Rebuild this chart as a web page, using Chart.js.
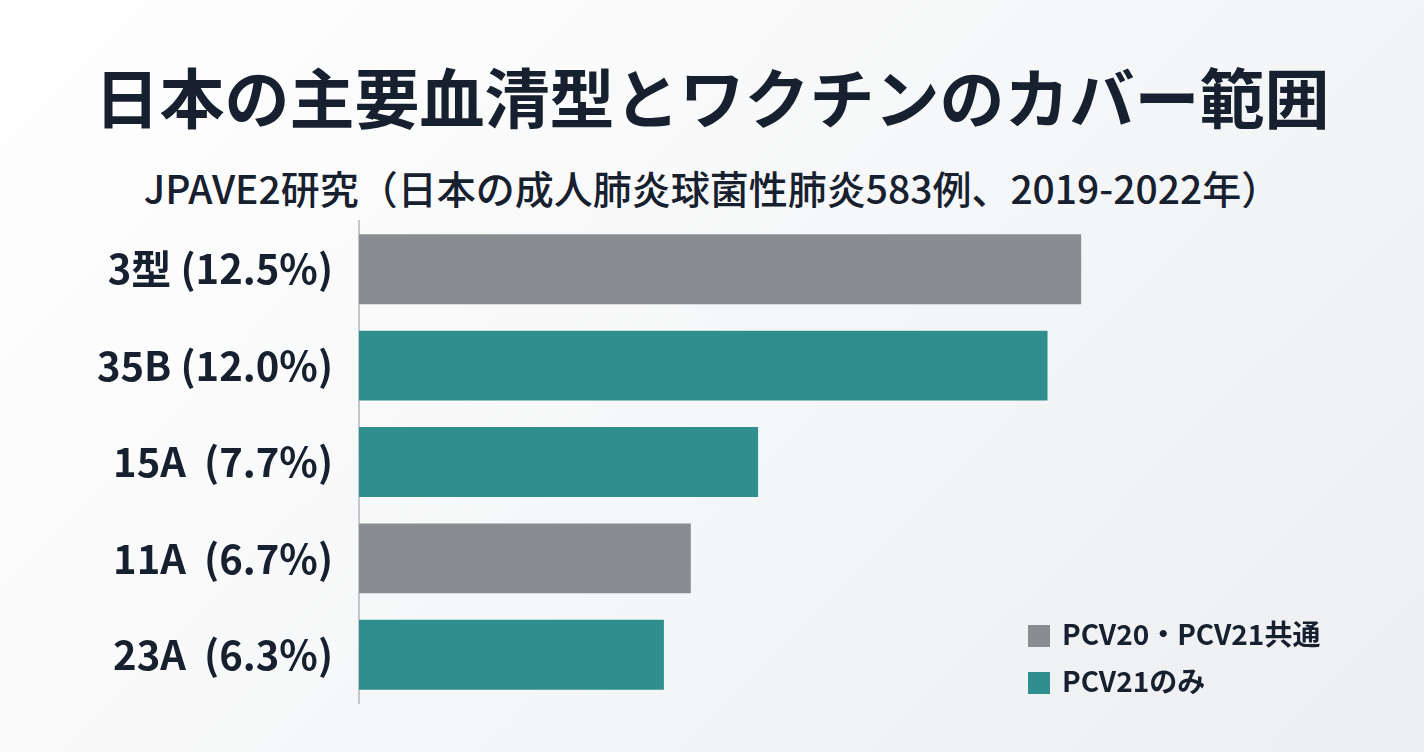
<!DOCTYPE html>
<html><head><meta charset="utf-8">
<script src="https://cdn.jsdelivr.net/npm/chart.js@4/dist/chart.umd.min.js"></script>
<style>
html,body{margin:0;padding:0;width:1424px;height:752px;overflow:hidden;font-family:"Noto Sans CJK JP","Noto Sans",sans-serif;}
body{background:linear-gradient(135deg,#ffffff 0%,#f6f7f8 50%,#eceef1 100%);position:relative;color:#17202e;}
#t{position:absolute;top:50px;left:0;width:1424px;text-align:center;font-size:65px;font-weight:700;line-height:90px;}
#s{position:absolute;top:160px;left:0;width:1424px;text-align:center;font-size:39px;font-weight:500;line-height:54px;}
#c{position:absolute;left:0;top:0;}
.lg{position:absolute;left:1028px;font-size:28px;font-weight:700;line-height:32px;}
.lg span{display:inline-block;width:22px;height:22px;vertical-align:-2px;margin-right:12px;}
</style></head><body>
<div id="t">日本の主要血清型とワクチンのカバー範囲</div>
<div id="s">JPAVE2研究（日本の成人肺炎球菌性肺炎583例、2019-2022年）</div>
<canvas id="c" width="1424" height="752"></canvas>
<div class="lg" style="top:617px"><span style="background:#8a8c92"></span>PCV20・PCV21共通</div>
<div class="lg" style="top:664px"><span style="background:#2e8f8e"></span>PCV21のみ</div>
<script>
const categories=["3型 (12.5%)","35B (12.0%)","15A  (7.7%)","11A  (6.7%)","23A  (6.3%)"];
const values=[12.5,12.0,7.7,6.7,6.3];
const groups=["common","only","only","common","only"];
const groupColors={common:"#8a8c92",only:"#2e8f8e"};
new Chart(document.getElementById('c'),{
 type:'bar',
 data:{labels:categories,datasets:[{data:values,backgroundColor:groups.map(g=>groupColors[g]),barPercentage:0.725,categoryPercentage:1}]},
 options:{indexAxis:'y',responsive:false,animation:false,
  layout:{padding:{left:0,top:221,bottom:49,right:44}},
  plugins:{legend:{display:false},tooltip:{enabled:false}},
  scales:{
   x:{display:false,min:1.77,max:16.94},
   y:{grid:{display:false},border:{display:true,color:'#c4c6ca',width:2},
      afterFit:s=>{s.width=359;},
      ticks:{padding:18,color:'#17202e',font:{size:40,weight:'bold',family:'"Noto Sans CJK JP","Noto Sans",sans-serif'}}}
  }}
});
</script>
</body></html>
